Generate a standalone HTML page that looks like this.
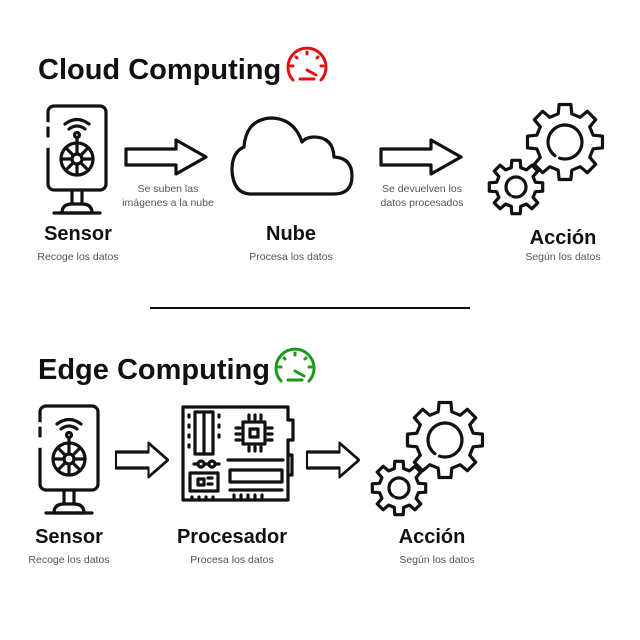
<!DOCTYPE html>
<html><head><meta charset="utf-8"><style>
html,body{margin:0;padding:0;background:#fff}
svg{display:block}
.t{font-family:"Liberation Sans",sans-serif;font-weight:bold;fill:#111}
.s{font-family:"Liberation Sans",sans-serif;fill:#555;font-size:10.5px}
.k{fill:none;stroke:#111;stroke-width:3.2;stroke-linecap:round;stroke-linejoin:round}
</style></head><body>
<svg id="sv" width="640" height="640" viewBox="0 0 640 640" xmlns="http://www.w3.org/2000/svg">
<defs>
<g id="sensor" class="k">
<rect x="0" y="0" width="58" height="84" rx="6"/>
<line x1="-0.1" y1="18" x2="-0.1" y2="40" stroke="#fff" stroke-width="4"/>
<line x1="0" y1="22" x2="0" y2="30"/>
<path d="M17 18 Q29 9 41 18 M21 23 Q29 17 37 23"/>
<circle cx="29" cy="29" r="2.5"/>
<line x1="29" y1="32" x2="29" y2="38"/>
<circle cx="29" cy="53" r="16"/>
<circle cx="29" cy="53" r="5"/>
<path d="M29 37v11M29 58v11M13 53h11M34 53h11M18 42l7 7M33 57l7 7M40 42l-7 7M25 57l-7 7"/>
<path d="M24 84v14h10V84M14 107q0-9 10-9h10q10 0 10 9z"/>
<line x1="6" y1="107" x2="52" y2="107"/>
</g>
<g id="arrow" class="k"><path d="M0 -8H50V-17L80 0L50 17V8H0Z"/></g>
</defs>
<text class="t" x="38" y="79" font-size="29">Cloud Computing</text>
<g fill="none" stroke="#e01010" stroke-width="3" stroke-linecap="round"><path d="M293 80A19 19 0 1 1 321 80"/><path d="M300 79h14M307 70l9 5M291 66h2M321 66h2M296 57l1 1M318 57l-1 1M307 52v2"/></g>
<use href="#sensor" x="48" y="106"/>
<text class="t" x="78" y="240" font-size="20" text-anchor="middle">Sensor</text>
<text class="s" x="78" y="260" text-anchor="middle">Recoge los datos</text>
<use href="#arrow" x="126" y="157"/>
<text class="s" x="168" y="192" text-anchor="middle" font-size="9.5">Se suben las</text>
<text class="s" x="168" y="206" text-anchor="middle" font-size="9.5">imágenes a la nube</text>
<path class="k" d="M250 194H334Q352 194 352 176Q352 158 334 157Q333 137 314 137Q306 137 302 142Q294 118 270 118Q246 120 244 147Q232 152 232 170Q233 193 250 194Z"/>
<text class="t" x="291" y="240" font-size="20" text-anchor="middle">Nube</text>
<text class="s" x="291" y="260" text-anchor="middle">Procesa los datos</text>
<use href="#arrow" x="381" y="157"/>
<text class="s" x="422" y="192" text-anchor="middle" font-size="9.5">Se devuelven los</text>
<text class="s" x="422" y="206" text-anchor="middle" font-size="9.5">datos procesados</text>
<g id="g1"></g>
<text class="t" x="563" y="244" font-size="20" text-anchor="middle">Acción</text>
<text class="s" x="563" y="260" text-anchor="middle">Según los datos</text>
<line x1="150" y1="308" x2="470" y2="308" stroke="#111" stroke-width="2"/>
<text class="t" x="38" y="379" font-size="29">Edge Computing</text>
<g fill="none" stroke="#1a9a1a" stroke-width="3" stroke-linecap="round"><path d="M281 381A19 19 0 1 1 309 381"/><path d="M288 380h14M295 371l9 5M279 367h2M309 367h2M284 358l1 1M306 358l-1 1M295 353v2"/></g>
<use href="#sensor" x="40" y="406"/>
<text class="t" x="69" y="543" font-size="20" text-anchor="middle">Sensor</text>
<text class="s" x="69" y="563" text-anchor="middle">Recoge los datos</text>
<use href="#arrow" transform="translate(116 460) scale(0.65 1)"/>
<g class="k">
<path d="M288 420V407H183V500H288V440"/>
<path d="M288 420h5v20h-5M288 455h4v20h-4"/>
<rect x="195" y="412" width="18" height="42"/><line x1="204" y1="412" x2="204" y2="454"/>
<path d="M189 415v2M189 425v2M189 435v2M189 445v2M219 415v2M219 425v2M219 435v2"/>
<rect x="243" y="422" width="22" height="22"/><rect x="250" y="429" width="8" height="8"/>
<path d="M249 415v4M255 415v4M261 415v4M249 447v4M255 447v4M261 447v4M236 428h4M236 434h4M236 440h4M268 428h4M268 434h4M268 440h4"/>
<circle cx="201" cy="464" r="3"/><circle cx="212" cy="464" r="3"/><path d="M194 464h4M204 464h5M215 464h4"/>
<path d="M228 460h55"/><rect x="230" y="470" width="52" height="12"/><path d="M230 490h52"/>
<rect x="190" y="473" width="28" height="18"/><path d="M198 479h6v6h-6zM208 478h4M208 484h4"/>
<path d="M192 497v1M199 497v1M206 497v1M213 497v1M234 495v4M241 495v4M248 495v4M255 495v4M262 495v4"/>
</g>
<text class="t" x="232" y="543" font-size="20" text-anchor="middle">Procesador</text>
<text class="s" x="232" y="563" text-anchor="middle">Procesa los datos</text>
<use href="#arrow" transform="translate(307 460) scale(0.65 1)"/>
<g id="g2"></g>
<text class="t" x="432" y="543" font-size="20" text-anchor="middle">Acción</text>
<text class="s" x="437" y="563" text-anchor="middle">Según los datos</text>
</svg>
<script>
function gear(cx,cy,R,r,n,ir){
 var d="",s=Math.PI*2/n;
 for(var i=0;i<n;i++){var a=i*s;
  var pts=[[r,a-s*0.3],[R,a-s*0.2],[R,a+s*0.2],[r,a+s*0.3]];
  pts.forEach(function(p,j){d+=(i==0&&j==0?"M":"L")+(cx+p[0]*Math.cos(p[1])).toFixed(1)+" "+(cy+p[0]*Math.sin(p[1])).toFixed(1);});}
 d+="Z";
 return '<path class="k" d="'+d+'"/><path class="k" d="M'+(cx+ir*Math.cos(2.2))+' '+(cy+ir*Math.sin(2.2))+'A'+ir+' '+ir+' 0 1 1 '+(cx+ir*Math.cos(1.9))+' '+(cy+ir*Math.sin(1.9))+'"/>';
}
document.getElementById("g1").innerHTML=gear(565,142,38,29,8,17)+gear(516,187,27,20,8,10);
document.getElementById("g2").innerHTML=gear(445,440,38,29,8,17)+gear(399,488,27,20,8,10);
</script>
</body></html>
